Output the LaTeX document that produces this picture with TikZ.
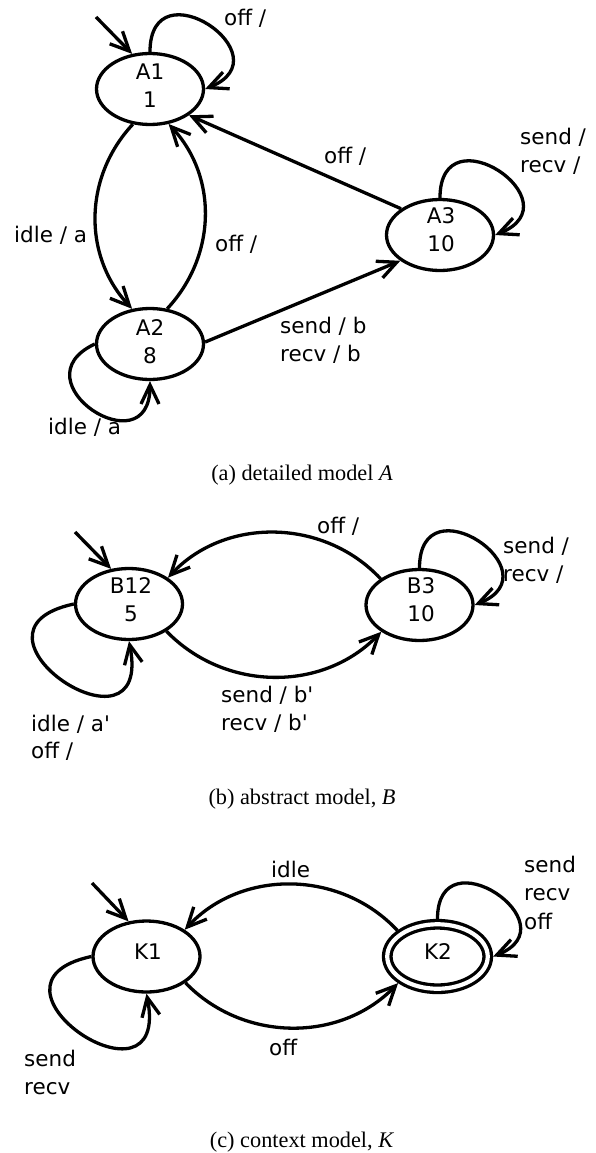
\documentclass[tikz,border=0pt]{standalone}
\usepackage{fontspec}
\setmainfont{Liberation Serif}
\newfontfamily\lblfont{DejaVu Sans}[Ligatures=TeXOff]
\usetikzlibrary{arrows.meta,shapes.geometric}
\begin{document}
\begin{tikzpicture}[x=1pt,y=1pt,
  state/.style={ellipse, draw, line width=3.3pt, minimum width=107pt, minimum height=71pt, inner sep=0pt},
  accept/.style={ellipse, draw, line width=3.3pt, double, double distance=4.2pt, minimum width=100.5pt, minimum height=64.5pt, inner sep=0pt, outer sep=5.4pt},
  trans/.style={line width=3.3pt, -{Straight Barb[length=19pt,width=18pt]}},
  lbl/.style={font=\lblfont\fontsize{21.5}{28.5}\selectfont, inner sep=0pt, align=left, anchor=north west},
  stxt/.style={font=\lblfont\fontsize{21.5}{28}\selectfont, inner sep=0pt, align=center, anchor=north},
  sone/.style={font=\lblfont\fontsize{21.5}{28}\selectfont, inner sep=0pt, anchor=base},
  captext/.style={font=\fontsize{22.3}{26}\selectfont, inner sep=0pt, anchor=base},
]
\fill[white] (0,0) rectangle (595,-1153);
\useasboundingbox (0,0) rectangle (595,-1153);

% ---------- (a) detailed model A ----------
\node[state] (A1) at (150,-89) {};
\node[state] (A2) at (150,-344) {};
\node[state] (A3) at (440,-235) {};
\node[stxt] (A1t) at (150,-63.3) {A1\\1};
\node[stxt] (A2t) at (150,-319.3) {A2\\8};
\node[stxt] (A3t) at (441,-207.3) {A3\\10};

\coordinate (A1i) at (96,-17);
\draw[trans] (A1i) -- (A1.117);
\draw[trans] (A1.north) .. controls +(90:88) and +(22:88) .. (A1.east);
\draw[trans] (A1.244) to[out=227,in=133] (A2.117);
\draw[trans] (A2.64) to[out=47,in=313] (A1.298);
\draw[trans] (A3.146) -- (A1.326);
\draw[trans] (A2.2) -- (A3.213);
\draw[trans] (A3.north) .. controls +(90:88) and +(22:88) .. (A3.east);
\draw[trans] (A2.west) .. controls +(205:88) and +(270:88) .. (A2.south);

\node[lbl] (lA1) at (224,-8.7) {off /};
\node[lbl] (lA12) at (14,-225.7) {idle / a};
\node[lbl] (lA21) at (215,-234.7) {off /};
\node[lbl] (lA31) at (324,-146.7) {off /};
\node[lbl] (lA23) at (280,-316.7) {send / b\\recv / b};
\node[lbl] (lA3) at (520,-127.7) {send /\\recv /};
\node[lbl] (lA2) at (48,-417.7) {idle / a};
\node[captext] (capA) at (302,-480) {(a)\ detailed model \textit{A}};

% ---------- (b) abstract model B ----------
\node[state] (B12) at (129,-604) {};
\node[state] (B3) at (419.5,-605) {};
\node[stxt] (B12t) at (131,-577.3) {B12\\5};
\node[stxt] (B3t) at (421,-577.3) {B3\\10};

\coordinate (B12i) at (75,-532);
\draw[trans] (B12i) -- (B12.117);
\draw[trans] (B3.146) to[out=133,in=47] (B12.34);
\draw[trans] (B12.324) to[out=314,in=226] (B3.215);
\draw[trans] (B3.north) .. controls +(90:88) and +(22:88) .. (B3.east);
\draw[trans] (B12.west) .. controls +(192:130) and +(281:130) .. (B12.south);

\node[lbl] (lB31) at (317,-516.7) {off /};
\node[lbl] (lB3) at (503,-536.7) {send /\\recv /};
\node[lbl] (lB13) at (221,-685.7) {send / b'\\recv / b'};
\node[lbl, font=\lblfont\fontsize{21.5}{27}\selectfont] (lB12) at (31,-714.7) {idle / a'\\off /};
\node[captext] (capB) at (302,-804) {(b)\ abstract model, \textit{B}};

% ---------- (c) context model K ----------
\node[state] (K1) at (146.5,-956.5) {};
\node[accept] (K2) at (437.5,-956.5) {};
\node[sone] (K1t) at (148,-959) {K1};
\node[sone] (K2t) at (438,-959) {K2};

\coordinate (K1i) at (92,-883);
\draw[trans] (K1i) -- (K1.117);
\draw[trans] (K2.147) to[out=133,in=47] (K1.35);
\draw[trans] (K1.326) to[out=314,in=226] (K2.214);
\draw[trans] (K2.north) .. controls +(90:86) and +(22:86) .. (K2.east);
\draw[trans] (K1.west) .. controls +(192:130) and +(281:130) .. (K1.south);

\node[lbl] (lK21) at (271,-860.7) {idle};
\node[lbl] (lK12) at (269,-1038.7) {off};
\node[lbl] (lK2) at (524,-855.7) {send\\recv\\off};
\node[lbl] (lK1) at (24,-1049.7) {send\\recv};
\node[captext] (capC) at (302,-1147) {(c)\ context model, \textit{K}};
\end{tikzpicture}
\end{document}
